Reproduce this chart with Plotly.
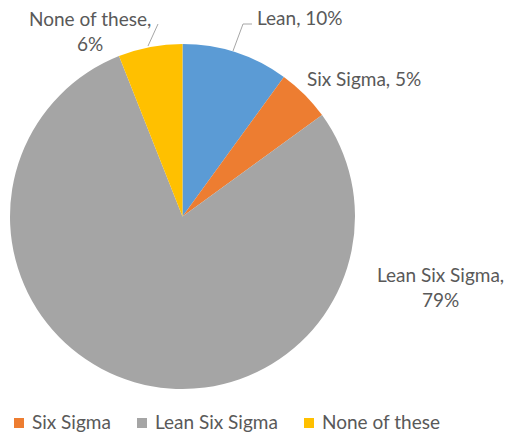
import plotly.graph_objects as go

categories = ["Lean", "Six Sigma", "Lean Six Sigma", "None of these"]
values = [10, 5, 79, 6]
colors = ["#5B9BD5", "#ED7D31", "#A5A5A5", "#FFC000"]
label_texts = ["Lean, 10%", "Six Sigma, 5%", "Lean Six Sigma,<br>79%", "None of these,<br>6%"]
legend_items = ["Six Sigma", "Lean Six Sigma", "None of these"]

W, H = 506, 433
FONT = "Lato"
TXT = "#595959"

fig = go.Figure()
fig.add_trace(go.Pie(
    labels=categories, values=values, sort=False, direction="clockwise", rotation=0,
    marker=dict(colors=colors, line=dict(width=0)),
    textinfo="none", hoverinfo="label+percent", showlegend=False,
    domain=dict(x=[9 / W, 356 / W], y=[1 - 389 / H, 1 - 44 / H]),
))

# data labels (pixel positions)
pos = {
    "Lean": (300, 18),
    "Six Sigma": (364, 79),
    "Lean Six Sigma": (440, 287),
    "None of these": (90, 31),
}
for cat, txt in zip(categories, label_texts):
    x, y = pos[cat]
    fig.add_annotation(x=x / W, y=1 - y / H, xref="paper", yref="paper", text=txt,
                       showarrow=False, align="center", xanchor="center", yanchor="middle",
                       font=dict(family=FONT, size=19, color=TXT))

# leader lines
for pts in [[(233, 51), (243, 24), (252, 24)], [(148, 46), (158, 24)]]:
    path = "M " + " L ".join(f"{x / W},{1 - y / H}" for x, y in pts)
    fig.add_shape(type="path", xref="paper", yref="paper", path=path,
                  line=dict(color="#A6A6A6", width=1))

# legend (drawn manually to match the reference layout)
legend_x = [14, 137, 304]
for name, lx in zip(legend_items, legend_x):
    c = colors[categories.index(name)]
    fig.add_shape(type="rect", xref="paper", yref="paper",
                  x0=lx / W, x1=(lx + 10) / W, y0=1 - 428 / H, y1=1 - 418 / H,
                  fillcolor=c, line=dict(width=0))
    fig.add_annotation(x=(lx + 16) / W, y=1 - 421 / H, xref="paper", yref="paper",
                       text=name, showarrow=False, xanchor="left", yanchor="middle",
                       font=dict(family=FONT, size=19, color=TXT))

fig.update_layout(
    width=W, height=H, margin=dict(l=0, r=0, t=0, b=0, autoexpand=False),
    paper_bgcolor="white", plot_bgcolor="white",
    showlegend=False,
)

fig.write_html("out.html")
